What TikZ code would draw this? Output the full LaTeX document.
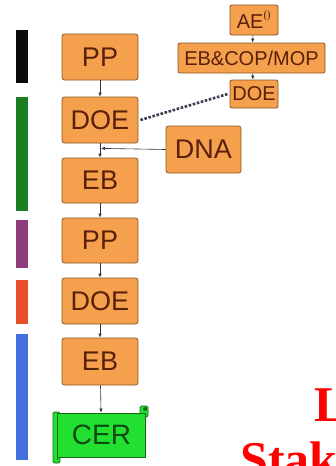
\documentclass[tikz,border=0pt]{standalone}
\usepackage{fontspec}
\setmainfont{Liberation Sans}
\newfontfamily\serifbold{Liberation Serif}
\usetikzlibrary{arrows.meta,calc}
\definecolor{boxfill}{HTML}{F5A04C}
\definecolor{boxline}{HTML}{8A5522}
\definecolor{boxtext}{HTML}{5A200C}
\definecolor{cerfill}{HTML}{22E030}
\definecolor{cerline}{HTML}{156A18}
\definecolor{certext}{HTML}{0C4A10}
\definecolor{barblack}{HTML}{0A0A0A}
\definecolor{bargreen}{HTML}{1B7E22}
\definecolor{barpurple}{HTML}{8E3C7C}
\definecolor{barorange}{HTML}{E8502C}
\definecolor{barblue}{HTML}{4470E0}
\definecolor{linkgray}{HTML}{333344}
\definecolor{dotgray}{HTML}{3A4052}
\tikzset{
  stagebox/.style={draw=boxline, fill=boxfill, rounded corners=2.5pt, line width=0.8pt,
    text=boxtext, font=\fontsize{27}{27}\selectfont, inner sep=0pt,
    minimum width=76pt, minimum height=46pt},
  smallbox/.style={draw=boxline, fill=boxfill, rounded corners=2pt, line width=0.8pt,
    text=boxtext, font=\fontsize{20}{20}\selectfont, inner sep=0pt,
    minimum height=29pt},
  flowarrow/.style={draw=linkgray, line width=0.6pt, -{Latex[length=4pt,width=3.5pt]}},
  dotlink/.style={draw=dotgray, line width=2.6pt, dash pattern=on 2.6pt off 1.6pt},
  rollpart/.style={draw=cerline, fill=cerfill, line width=0.8pt},
  redtitle/.style={text=red, font=\serifbold\bfseries\fontsize{50}{50}\selectfont, inner sep=0pt, anchor=base west}
}
\begin{document}
\begin{tikzpicture}[x=1pt,y=-1pt]
\useasboundingbox (0,0) rectangle (335,466);
\clip (0,0) rectangle (335,466);
\fill[white] (0,0) rectangle (335,466);
% side bars
\fill[barblack]  (16,30) rectangle (28,83);
\fill[bargreen]  (16,97) rectangle (28,211);
\fill[barpurple] (16,220) rectangle (28,268);
\fill[barorange] (16,280) rectangle (28,324);
\fill[barblue]   (16,334) rectangle (28,460);
% main column
\node[stagebox] (pp1)  at (100,57)    {PP};
\node[stagebox] (doe1) at (100,120)   {DOE};
\node[stagebox, minimum height=45pt] (eb1)  at (100,180.5) {EB};
\node[stagebox, minimum height=45pt] (pp2)  at (100,240.5) {PP};
\node[stagebox] (doe2) at (100,301)   {DOE};
\node[stagebox, minimum height=47pt] (eb2)  at (100,361.5) {EB};
% CER scroll
\draw[rollpart, rounded corners=1.5pt] (140,406) rectangle (148,417);
\draw[rollpart, rounded corners=1.5pt] (53,412) rectangle (60,463);
\node[draw=cerline, fill=cerfill, line width=0.8pt, text=certext,
  font=\fontsize{28}{28}\selectfont, inner sep=0pt,
  minimum width=88pt, minimum height=44pt] (cer) at (101.5,435) {CER};
\fill[cerline] (145,409) circle (2pt);
\draw[cerline, line width=0.8pt] (57.5,413) -- (57.5,460);
% side boxes
\node[stagebox, minimum width=75pt, minimum height=47pt] (dna) at (203.5,149.5) {DNA};
\node[smallbox, minimum width=48pt, minimum height=30pt] (ae) at (254,20) {AE$^{0}$};
\node[smallbox, minimum width=147pt, minimum height=30pt] (ebcop) at (251.5,58) {EB\&COP/MOP};
\node[smallbox, minimum width=48pt, minimum height=28pt] (does) at (254,94) {DOE};
% connectors
\draw[flowarrow] (pp1) -- (doe1);
\draw[flowarrow] (doe1) -- (eb1);
\draw[flowarrow] (eb1) -- (pp2);
\draw[flowarrow] (pp2) -- (doe2);
\draw[flowarrow] (doe2) -- (eb2);
\draw[flowarrow] (eb2) -- (cer);
\draw[flowarrow] (ae) -- (ebcop);
\draw[flowarrow] (ebcop) -- (does);
\coordinate (dnajoin) at ($(doe1.south)!0.35!(eb1.north)+(1,0)$);
\draw[flowarrow] (dna.west) -- (dnajoin);
\draw[dotlink] ($(doe1.east)+(2,0)$) -- ($(does.west)+(-2,0)$);
% cut-off title
\node[redtitle] (t1) at (314,421) {L};
\node[redtitle] (t2) at (240,476) {Stak};
\end{tikzpicture}
\end{document}
